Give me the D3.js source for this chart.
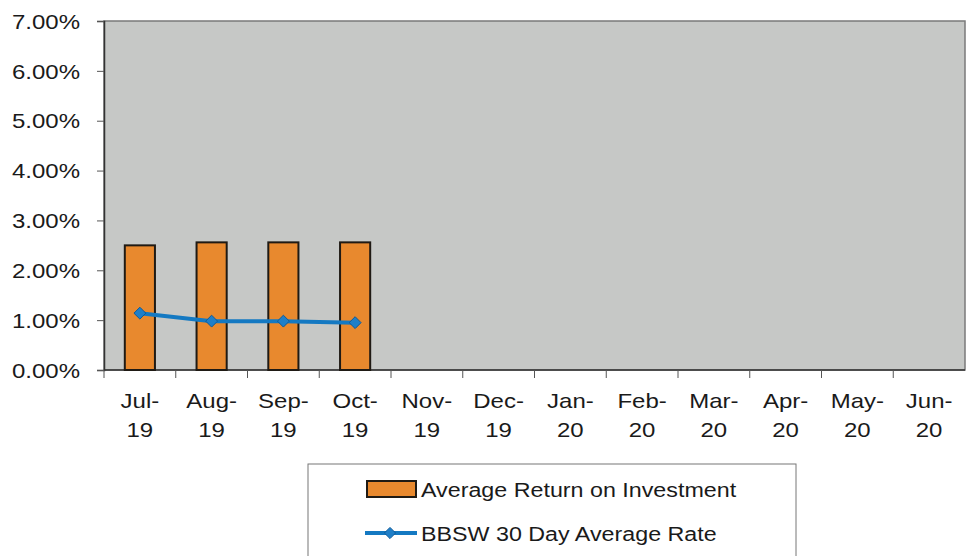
<!DOCTYPE html>
<html>
<head>
<meta charset="utf-8">
<script src="https://cdn.jsdelivr.net/npm/d3@7"></script>
<style>
  body { margin: 0; background: #fff; }
  svg text { font-family: "Liberation Sans", Arial, sans-serif; fill: #1a1a1a; }
</style>
</head>
<body>
<div id="chart"></div>
<script>
// chart data
const months = ["Jul-19", "Aug-19", "Sep-19", "Oct-19", "Nov-19", "Dec-19",
                "Jan-20", "Feb-20", "Mar-20", "Apr-20", "May-20", "Jun-20"];
const avgReturn = [2.50, 2.56, 2.56, 2.56];   // Average Return on Investment (%)
const bbsw30 = [1.14, 0.98, 0.98, 0.95];       // BBSW 30 Day Average Rate (%)
const yTicks = [0, 1, 2, 3, 4, 5, 6, 7];

const width = 970, height = 556;
const margin = {top: 21, right: 5, bottom: 186, left: 104};
const sx = 1.2; // the scanned text is a bit wider than normal

const svg = d3.select("#chart").append("svg")
    .attr("width", width).attr("height", height);

const x = d3.scaleBand()
    .domain(months)
    .range([margin.left, width - margin.right])
    .paddingInner(0.58).paddingOuter(0.29);

const y = d3.scaleLinear()
    .domain([0, 7])
    .range([height - margin.bottom, margin.top]);

// plot background
svg.append("rect")
    .attr("x", margin.left).attr("y", margin.top)
    .attr("width", width - margin.right - margin.left)
    .attr("height", y(0) - margin.top)
    .attr("fill", "#c6c8c6")
    .attr("stroke", "#7a7a7a").attr("stroke-width", 1.5);

// y axis
const yAxis = svg.append("g")
    .attr("transform", `translate(${margin.left},0)`)
    .call(d3.axisLeft(y).tickValues(yTicks).tickFormat(d => d.toFixed(2) + "%").tickSize(7));
yAxis.select(".domain").attr("stroke", "#333").attr("stroke-width", 1.5);
yAxis.selectAll(".tick line").attr("stroke", "#555");
yAxis.selectAll("text")
    .style("font-size", "20px").attr("fill", "#1a1a1a")
    .attr("x", -24 / sx).attr("dy", "0.36em")
    .attr("transform", `scale(${sx},1)`);

// x axis: ticks on band boundaries
const step = x.step();
const xLine = svg.append("g");
xLine.append("line")
    .attr("x1", margin.left).attr("x2", width - margin.right)
    .attr("y1", y(0)).attr("y2", y(0))
    .attr("stroke", "#333").attr("stroke-width", 1.5);
xLine.selectAll("line.tk")
    .data(months)
    .join("line").attr("class", "tk")
    .attr("x1", d => x(d) - step * 0.29)
    .attr("x2", d => x(d) - step * 0.29)
    .attr("y1", y(0)).attr("y2", y(0) + 8)
    .attr("stroke", "#555");

const xl = svg.append("g").selectAll("g")
    .data(months)
    .join("g")
    .attr("transform", d => `translate(${x(d) + x.bandwidth() / 2},0) scale(${sx},1)`);
xl.append("text").attr("y", y(0) + 38).attr("text-anchor", "middle")
    .style("font-size", "20px").text(d => d.split("-")[0] + "-");
xl.append("text").attr("y", y(0) + 67).attr("text-anchor", "middle")
    .style("font-size", "20px").text(d => d.split("-")[1]);

// bars
svg.append("g").selectAll("rect")
    .data(avgReturn)
    .join("rect")
    .attr("x", (d, i) => x(months[i]))
    .attr("y", d => y(d))
    .attr("width", x.bandwidth())
    .attr("height", d => y(0) - y(d))
    .attr("fill", "#e8892e")
    .attr("stroke", "#1f1a14").attr("stroke-width", 2);

// line
const line = d3.line()
    .x((d, i) => x(months[i]) + x.bandwidth() / 2)
    .y(d => y(d));
svg.append("path")
    .datum(bbsw30)
    .attr("d", line)
    .attr("fill", "none")
    .attr("stroke", "#1479c2").attr("stroke-width", 4);
svg.append("g").selectAll("path")
    .data(bbsw30)
    .join("path")
    .attr("d", d3.symbol(d3.symbolDiamond2, 90))
    .attr("transform", (d, i) => `translate(${x(months[i]) + x.bandwidth() / 2},${y(d)})`)
    .attr("fill", "#1f7fc8").attr("stroke", "#0d5a99").attr("stroke-width", 1);

// legend
const lg = svg.append("g");
lg.append("rect")
    .attr("x", 308).attr("y", 464).attr("width", 488).attr("height", 110)
    .attr("fill", "#fff").attr("stroke", "#777").attr("stroke-width", 1);
lg.append("rect")
    .attr("x", 367).attr("y", 481).attr("width", 49).attr("height", 16)
    .attr("fill", "#e8892e").attr("stroke", "#1f1a14").attr("stroke-width", 2);
lg.append("text").attr("transform", `translate(421,497) scale(${sx * 0.97},1)`)
    .style("font-size", "20px").text("Average Return on Investment");
lg.append("line")
    .attr("x1", 365).attr("x2", 417).attr("y1", 533).attr("y2", 533)
    .attr("stroke", "#1479c2").attr("stroke-width", 4);
lg.append("path")
    .attr("d", d3.symbol(d3.symbolDiamond2, 80))
    .attr("transform", "translate(390,533)")
    .attr("fill", "#1f7fc8").attr("stroke", "#0d5a99");
lg.append("text").attr("transform", `translate(421,541) scale(${sx * 0.97},1)`)
    .style("font-size", "20px").text("BBSW 30 Day Average Rate");
</script>
</body>
</html>
